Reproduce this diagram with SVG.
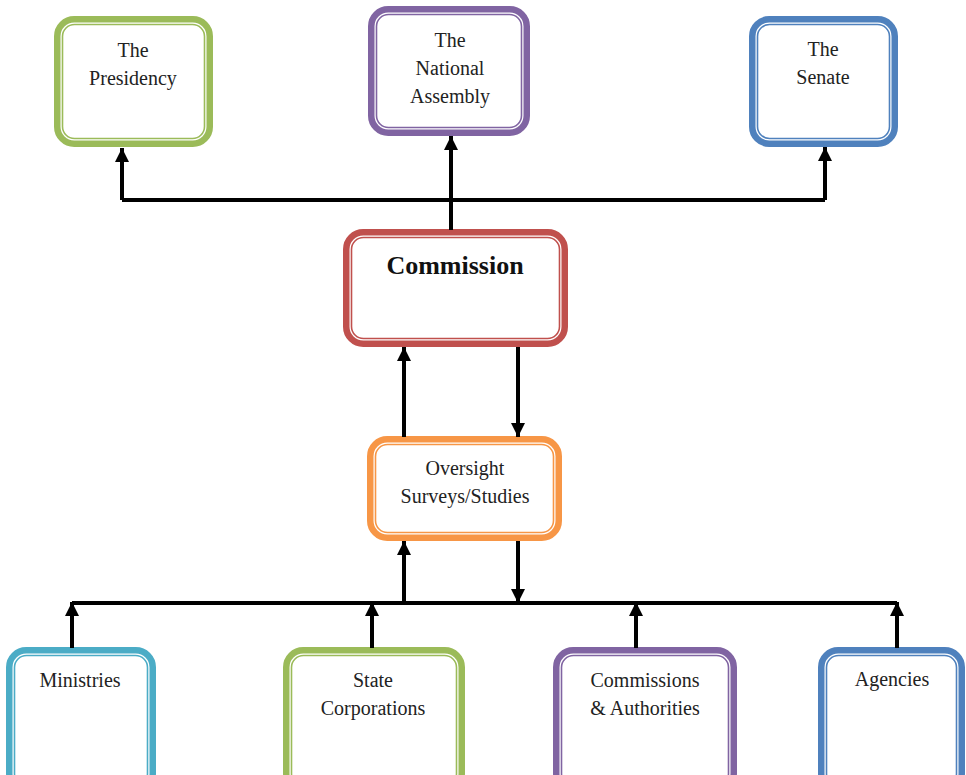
<svg xmlns="http://www.w3.org/2000/svg" width="966" height="775" viewBox="0 0 966 775">
<style>
.o{fill:#fff;stroke-width:6.5}
.i{fill:none;stroke-width:1.6}
.t{font-family:"Liberation Serif",serif;font-size:20px;fill:#222;text-anchor:middle}
.b{font-weight:bold;font-size:26px;fill:#111}
.c{stroke:#000;stroke-width:4;fill:none}
.g{stroke:#9BBB59}.p{stroke:#8064A2}.bl{stroke:#4F81BD}.r{stroke:#C0504D}.or{stroke:#F79646}.tl{stroke:#4BACC6}
</style>
<defs>
<marker id="ah" markerUnits="userSpaceOnUse" markerWidth="14" markerHeight="14" refX="14" refY="7" orient="auto">
<path d="M0,0 L14,7 L0,14 z" fill="#000"/>
</marker>
</defs>
<rect width="966" height="775" fill="#fff"/>
<g id="presidency">
<rect class="o g" x="57.25" y="19.25" width="152.5" height="124.5" rx="17"/>
<rect class="i g" x="62.5" y="24.5" width="142" height="114" rx="12"/>
<text class="t" x="133" y="57">The</text>
<text class="t" x="133" y="85">Presidency</text>
</g>
<g id="national-assembly">
<rect class="o p" x="371.25" y="9.25" width="155.5" height="123.5" rx="17"/>
<rect class="i p" x="376.5" y="14.5" width="145" height="113" rx="12"/>
<text class="t" x="450" y="47">The</text>
<text class="t" x="450" y="75">National</text>
<text class="t" x="450" y="103">Assembly</text>
</g>
<g id="senate">
<rect class="o bl" x="752.25" y="19.25" width="142.5" height="124.5" rx="17"/>
<rect class="i bl" x="757.5" y="24.5" width="132" height="114" rx="12"/>
<text class="t" x="823" y="56">The</text>
<text class="t" x="823" y="84">Senate</text>
</g>
<g id="commission">
<rect class="o r" x="346.25" y="232.25" width="218.5" height="111.5" rx="17"/>
<rect class="i r" x="351.5" y="237.5" width="208" height="101" rx="12"/>
<text class="t b" x="455" y="274">Commission</text>
</g>
<g id="oversight">
<rect class="o or" x="370.25" y="439.25" width="188.5" height="98.5" rx="17"/>
<rect class="i or" x="375.5" y="444.5" width="178" height="88" rx="12"/>
<text class="t" x="465" y="475">Oversight</text>
<text class="t" x="465" y="503">Surveys/Studies</text>
</g>
<g id="ministries">
<rect class="o tl" x="9.25" y="650.25" width="143.5" height="140" rx="17"/>
<rect class="i tl" x="14.5" y="655.5" width="133" height="130" rx="12"/>
<text class="t" x="80" y="687">Ministries</text>
</g>
<g id="state-corporations">
<rect class="o g" x="286.25" y="650.25" width="175.5" height="140" rx="17"/>
<rect class="i g" x="291.5" y="655.5" width="165" height="130" rx="12"/>
<text class="t" x="373" y="687">State</text>
<text class="t" x="373" y="715">Corporations</text>
</g>
<g id="commissions-authorities">
<rect class="o p" x="556.25" y="650.25" width="177.5" height="140" rx="17"/>
<rect class="i p" x="561.5" y="655.5" width="167" height="130" rx="12"/>
<text class="t" x="645" y="687">Commissions</text>
<text class="t" x="645" y="715">&amp; Authorities</text>
</g>
<g id="agencies">
<rect class="o bl" x="821.25" y="650.25" width="140.5" height="140" rx="17"/>
<rect class="i bl" x="826.5" y="655.5" width="130" height="130" rx="12"/>
<text class="t" x="892" y="686">Agencies</text>
</g>
<g id="connectors">
<path class="c" d="M122,200 L825,200"/>
<path class="c" d="M122,200 L122,148" marker-end="url(#ah)"/>
<path class="c" d="M825,200 L825,147" marker-end="url(#ah)"/>
<path class="c" d="M451,230 L451,136" marker-end="url(#ah)"/>
<path class="c" d="M404,437 L404,347" marker-end="url(#ah)"/>
<path class="c" d="M518,347 L518,437" marker-end="url(#ah)"/>
<path class="c" d="M404,603 L404,541" marker-end="url(#ah)"/>
<path class="c" d="M518,541 L518,603" marker-end="url(#ah)"/>
<path class="c" d="M72,603 L897,603"/>
<path class="c" d="M72,648 L72,602" marker-end="url(#ah)"/>
<path class="c" d="M372,648 L372,602" marker-end="url(#ah)"/>
<path class="c" d="M636,648 L636,602" marker-end="url(#ah)"/>
<path class="c" d="M897,648 L897,602" marker-end="url(#ah)"/>
</g>
</svg>
